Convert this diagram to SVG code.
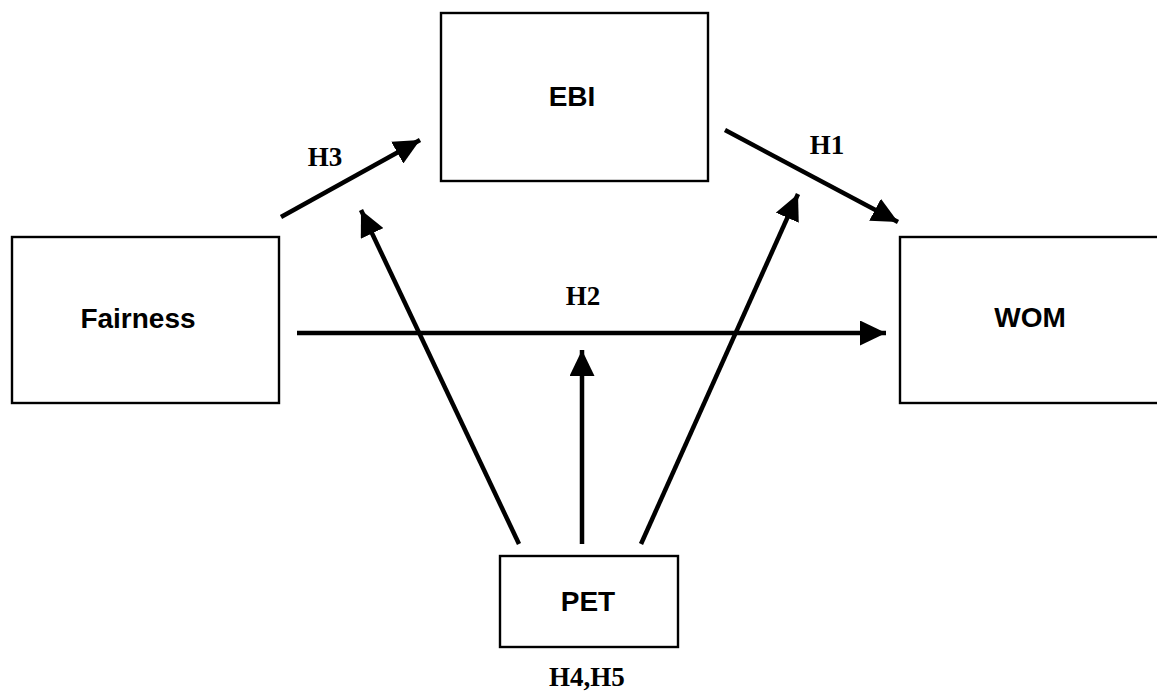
<svg xmlns="http://www.w3.org/2000/svg" width="1157" height="693" viewBox="0 0 1157 693">
<style>
.box{fill:#fff;stroke:#000;stroke-width:2.4}
.lbl{font-family:"Liberation Sans",Arial,sans-serif;font-weight:bold;font-size:28px;fill:#000;text-anchor:middle}
.h{font-family:"Liberation Serif","Times New Roman",serif;font-weight:bold;font-size:27px;fill:#000;text-anchor:middle}
.arr{stroke:#000;stroke-width:4.5;fill:none;marker-end:url(#ah)}
</style>
<defs>
<marker id="ah" viewBox="0 0 26 25" refX="26" refY="12.5" markerWidth="26" markerHeight="25" markerUnits="userSpaceOnUse" orient="auto">
<path d="M0,0 L26,12.5 L0,25 Z" fill="#000"/>
</marker>
</defs>
<rect width="1157" height="693" fill="#fff"/>
<g id="connectors">
<line class="arr" x1="281" y1="217" x2="420" y2="140"/>
<line class="arr" x1="725" y1="130" x2="898" y2="222"/>
<line class="arr" x1="297" y1="333" x2="886" y2="333"/>
<line class="arr" x1="519" y1="544" x2="361" y2="210"/>
<line class="arr" x1="582" y1="544" x2="582" y2="350"/>
<line class="arr" x1="641" y1="544" x2="798" y2="194"/>
</g>
<g id="fairness">
<rect class="box" x="12" y="237" width="267" height="166"/>
<text class="lbl" x="138" y="328">Fairness</text>
</g>
<g id="ebi">
<rect class="box" x="441" y="13" width="267" height="168"/>
<text class="lbl" x="572" y="106">EBI</text>
</g>
<g id="wom">
<rect class="box" x="900" y="237" width="262" height="166"/>
<text class="lbl" x="1030" y="327">WOM</text>
</g>
<g id="pet">
<rect class="box" x="500" y="556" width="178" height="91"/>
<text class="lbl" x="588" y="611">PET</text>
</g>
<g id="labels">
<text class="h" x="325" y="166">H3</text>
<text class="h" x="827" y="154">H1</text>
<text class="h" x="583" y="305">H2</text>
<text class="h" x="587" y="686">H4,H5</text>
</g>
</svg>
